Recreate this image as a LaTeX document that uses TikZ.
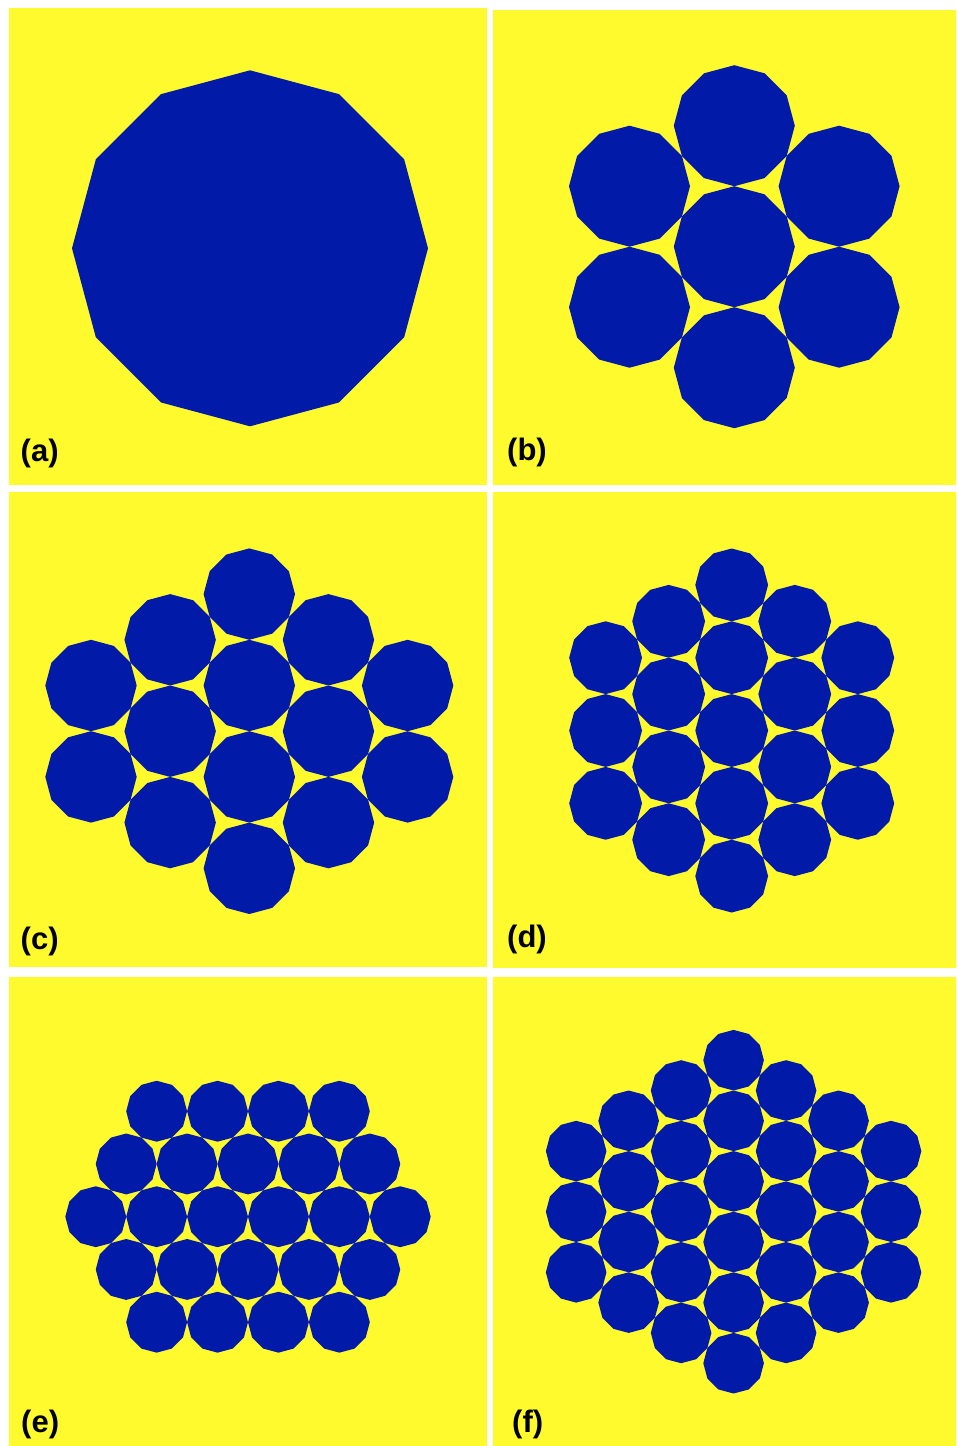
\documentclass[tikz,border=0pt]{standalone}
\usepackage{fontspec}
\setmainfont{Liberation Sans}
\definecolor{bg}{RGB}{255,250,45}
\definecolor{rod}{RGB}{2,26,168}
\tikzset{
  panel/.style={fill=bg},
  lab/.style={anchor=west, inner sep=0pt, font=\fontsize{31}{31}\selectfont\bfseries, text=black}
}
% regular dodecagon, vertex at top
\newcommand\dodec[3]{\fill[rod] ({#1},{#2}) +(0:#3) \foreach \a in {30,60,...,330}{ -- +(\a:#3)} -- cycle;}
% hexagonal packing, columns vertical: cx cy R N K
\newcommand\hexcols[5]{%
  \foreach \k in {-#5,...,#5}{%
    \pgfmathtruncatemacro\m{#4-abs(\k)}%
    \pgfmathtruncatemacro\mm{-\m+2}%
    \foreach \j in {-\m,\mm,...,\m}{\dodec{#1+(\k)*1.7320508*#3}{#2+(\j)*#3}{#3}}}}
% hexagonal packing, rows horizontal: cx cy R N K
\newcommand\hexrows[5]{%
  \foreach \k in {-#5,...,#5}{%
    \pgfmathtruncatemacro\m{#4-abs(\k)}%
    \pgfmathtruncatemacro\mm{-\m+2}%
    \foreach \j in {-\m,\mm,...,\m}{\dodec{#1+(\j)*#3}{#2+(\k)*1.7320508*#3}{#3}}}}
\begin{document}
\begin{tikzpicture}[x=1pt,y=-1pt]
\useasboundingbox (0,0) rectangle (956,1446);
\fill[white] (0,0) rectangle (956,1446);
% panels
\fill[panel] (9,8) rectangle (487,485);
\fill[panel] (493,10) rectangle (956,485);
\fill[panel] (9,492) rectangle (487,967);
\fill[panel] (493,492) rectangle (956,968);
\fill[panel] (9,977) rectangle (487,1446);
\fill[panel] (493,977) rectangle (956,1446);
% (a)
\dodec{250}{248.3}{178}
% (b)
\hexcols{734.3}{246.7}{60.5}{2}{1}
% (c)
\hexcols{249.3}{731.2}{45.7}{3}{2}
% (d)
\hexcols{731.7}{730.5}{36.4}{4}{2}
% (e)
\hexrows{248}{1216.7}{30.45}{5}{2}
% (f)
\hexcols{733.6}{1211.7}{30.3}{5}{3}
% labels
\node[lab] (la) at (20.5,453) {(a)};
\node[lab] (lb) at (507,452.5) {(b)};
\node[lab] (lc) at (20.5,941) {(c)};
\node[lab] (ld) at (507,939) {(d)};
\node[lab] (le) at (21,1424.5) {(e)};
\node[lab] (lf) at (512,1424) {(f)};
\end{tikzpicture}
\end{document}
